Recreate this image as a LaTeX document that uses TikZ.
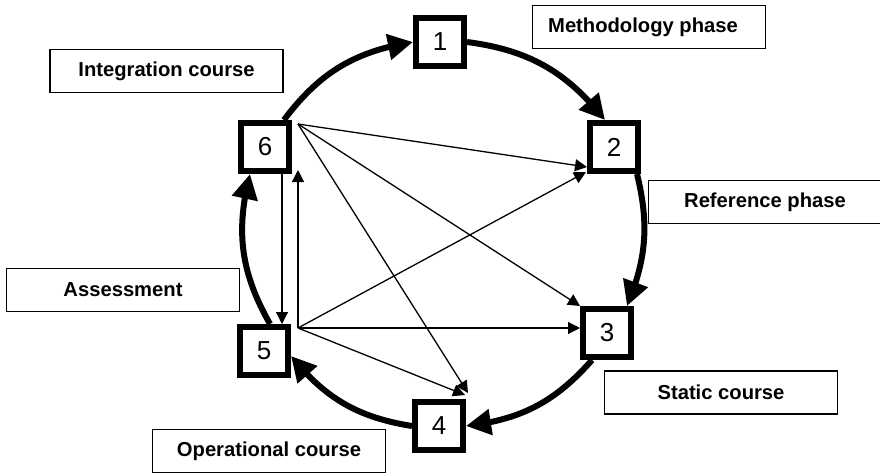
\documentclass[tikz,border=0pt]{standalone}
\usepackage{fontspec}
\setmainfont{Liberation Sans}
\usetikzlibrary{arrows.meta,calc,bending}
\begin{document}
\begin{tikzpicture}[x=1pt,y=1pt,
  stage/.style={draw,line width=6pt,minimum size=48pt,inner sep=0pt,fill=white,
    font=\fontsize{26}{30}\selectfont},
  tag/.style={draw,line width=1.5pt,minimum width=233pt,minimum height=43pt,inner sep=0pt,
    font=\fontsize{20.2}{24}\selectfont\bfseries},
  cycle/.style={line width=6pt,-{Triangle[length=25pt,width=25pt]}},
  link/.style={line width=1.3pt,-{Triangle[length=12pt,width=12pt]}},
]
\useasboundingbox[fill=white] (0,0) rectangle (880,-472);

% phase labels
\node[tag] (tMeth) at (649,-27)   {Methodology phase\hspace*{12pt}};
\node[tag] (tInt)  at (166.5,-71) {Integration course};
\node[tag] (tRef)  at (765,-202)  {Reference phase};
\node[tag] (tStat) at (721,-392.5){Static course};
\node[tag] (tAss)  at (123,-290)  {Assessment};
\node[tag] (tOp)   at (269,-451)  {Operational course};

% numbered stages
\node[stage] (n1) at (440,-42)  {1};
\node[stage] (n2) at (614,-147) {2};
\node[stage] (n3) at (607,-333) {3};
\node[stage] (n4) at (439,-426) {4};
\node[stage] (n5) at (264,-351) {5};
\node[stage] (n6) at (265,-147) {6};

% main cycle
\draw[cycle] (n6.55) to[bend left=22] (n1.west);
\draw[cycle] (n1.east) to[bend left=22] ($(n2.north)+(-9,0)$);
\draw[cycle] ($(n2.south east)+(-4,0)$) to[bend left=18] ($(n3.north east)+(-7,0)$);
\draw[cycle] ($(n3.south west)+(12,0)$) to[bend left=21] (n4.east);
\draw[cycle] (n4.west) to[bend left=21] ($(n5.east)+(0,-5)$);
\draw[cycle] ($(n5.north)+(6,0)$) to[bend left=22] ($(n6.south)+(-15,0)$);

% feedback links
\coordinate (h6) at (298,-124);
\coordinate (h5) at (298,-328);
\coordinate (vtop) at ($(h5 |- n6.south)+(0,4)$);

\draw[link] (h6) -- ($(n2.west)+(0,-20)$);
\draw[link] (h6) -- (n3.north west);
\draw[link] (h6) -- ($(n4.north east)+(2,6)$);
\draw[link] ($(n6.south)+(17,0)$) -- ($(n5.north)+(18,0)$);

\draw[link] (h5) -- (vtop);
\draw[link] (h5) -- ($(n2.south west)+(-1,2)$);
\draw[link] (h5) -- (n3.west |- h5);
\draw[link] (h5) -- ($(n4.north east)+(-1,4)$);
\end{tikzpicture}
\end{document}
